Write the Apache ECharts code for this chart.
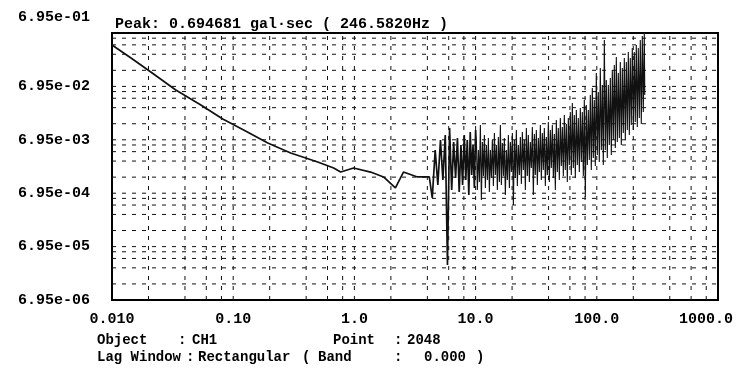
<!DOCTYPE html>
<html>
<head>
<meta charset="utf-8">
<script src="https://cdn.jsdelivr.net/npm/echarts@6/dist/echarts.min.js"></script>
<style>
html, body { margin: 0; padding: 0; background: #fff; }
#chart { width: 738px; height: 376px; }
</style>
</head>
<body>
<div id="chart"></div>
<script>
// tick labels
const xTickLabels = ['0.010', '0.10', '1.0', '10.0', '100.0', '1000.0'];
const yTickLabels = ['6.95e-06', '6.95e-05', '6.95e-04', '6.95e-03', '6.95e-02', '6.95e-01'];

// axis range
const xRange = [0.01, 1000];
const yRange = [6.95e-6, 0.695];

// dashed grid: each decade at 1, 2, 4, 6, 8
const gridSteps = [1, 2, 4, 6, 8];
const xDecades = [0.01, 0.1, 1, 10, 100];
const yDecades = [6.95e-6, 6.95e-5, 6.95e-4, 6.95e-3, 6.95e-2];

const peakText = 'Peak: 0.694681 gal\u00b7sec ( 246.5820Hz )';

// [Hz, gal*sec] - smooth low frequency part
const smoothPart = [
	[0.01, 0.414], [0.01435, 0.236], [0.0209, 0.129], [0.0336, 0.0596],
	[0.0541, 0.0312], [0.082, 0.0170], [0.122, 0.0106], [0.193, 0.00605],
	[0.298, 0.00394], [0.498, 0.00267], [0.674, 0.00206], [0.77, 0.00173],
	[0.985, 0.00206], [1.36, 0.00173], [1.74, 0.00140], [2.18, 0.00087],
	[2.54, 0.00173], [3.31, 0.00140], [3.91, 0.00140]
];

// [Hz, gal*sec] - single spikes, 4 - 10 Hz
const spikePart = [
	[4.15, 0.00140], [4.39, 0.000565], [4.64, 0.00448], [4.88, 0.00099],
	[5.13, 0.00689], [5.37, 0.00123], [5.62, 0.00855], [5.86, 0.0000314],
	[6.10, 0.0116], [6.35, 0.000798], [6.59, 0.00632], [6.84, 0.00134],
	[7.08, 0.00751], [7.32, 0.000732], [7.57, 0.00555], [7.81, 0.00099],
	[8.06, 0.00855], [8.30, 0.00123], [8.54, 0.00689], [8.79, 0.000643],
	[9.03, 0.00973], [9.28, 0.00152], [9.52, 0.00555], [9.77, 0.000870],
	[10.0, 0.0106]
];

// [Hz, gal*sec] - dense band, 10 - 250 Hz
const densePart = [
	[10.15, 0.00689], [10.34, 0.000798], [10.54, 0.00448], [10.74, 0.00113],
	[10.95, 0.0132], [11.16, 0.000518], [11.38, 0.00632], [11.60, 0.00146],
	[11.82, 0.00855], [12.04, 0.000870], [12.27, 0.00555], [12.51, 0.00123],
	[12.75, 0.00751], [12.99, 0.000732], [13.24, 0.00448], [13.49, 0.00134],
	[13.75, 0.00689], [14.02, 0.000948], [14.29, 0.00932], [14.56, 0.00152],
	[14.84, 0.00555], [15.12, 0.000798], [15.41, 0.00784], [15.71, 0.00113],
	[16.01, 0.0132], [16.32, 0.00099], [16.63, 0.00605], [16.95, 0.00146],
	[17.27, 0.00751], [17.60, 0.000643], [17.94, 0.00448], [18.29, 0.00123],
	[18.64, 0.00855], [19.00, 0.000870], [19.36, 0.00632], [19.73, 0.00173],
	[20.11, 0.00932], [20.50, 0.000418], [20.89, 0.00689], [21.29, 0.00134],
	[21.69, 0.0106], [22.11, 0.000948], [22.53, 0.00555], [22.97, 0.00152],
	[23.41, 0.00784], [23.86, 0.00103], [24.31, 0.00973], [24.78, 0.00189],
	[25.25, 0.00689], [25.74, 0.000798], [26.23, 0.0116], [26.73, 0.00146],
	[27.24, 0.00855], [27.77, 0.00113], [28.30, 0.00632], [28.84, 0.00206],
	[29.39, 0.0121], [29.96, 0.000643], [30.53, 0.00893], [31.11, 0.00152],
	[31.71, 0.0106], [32.32, 0.00099], [32.94, 0.00751], [33.57, 0.00173],
	[34.22, 0.0132], [34.87, 0.00123], [35.54, 0.00932], [36.22, 0.00189],
	[36.92, 0.0116], [37.63, 0.000948], [38.35, 0.00784], [39.08, 0.00152],
	[39.83, 0.0150], [40.59, 0.00113], [41.37, 0.0106], [42.16, 0.00206],
	[42.97, 0.0132], [43.80, 0.00134], [44.64, 0.00893], [45.49, 0.000798],
	[46.36, 0.0163], [47.25, 0.00173], [48.16, 0.0116], [49.08, 0.00123],
	[50.02, 0.0178], [50.98, 0.00225], [51.96, 0.0121], [52.96, 0.00146],
	[53.97, 0.0202], [55.00, 0.00189], [56.06, 0.0137], [57.13, 0.00113],
	[58.23, 0.0178], [59.35, 0.00234], [60.48, 0.0230], [61.64, 0.00152],
	[62.82, 0.0340], [64.03, 0.00206], [65.25, 0.0202], [66.50, 0.00134],
	[67.78, 0.0251], [69.08, 0.00234], [70.40, 0.0178], [71.75, 0.00173],
	[73.13, 0.0274], [74.53, 0.00267], [75.96, 0.0230], [77.42, 0.00146],
	[78.90, 0.0387], [80.41, 0.000590], [81.95, 0.0312], [83.53, 0.00234],
	[85.13, 0.0251], [86.76, 0.00291], [88.42, 0.0480], [90.11, 0.00189],
	[91.84, 0.0649], [93.60, 0.00317], [95.40, 0.0387], [97.23, 0.00225],
	[99.09, 0.124], [101.0, 0.00361], [102.9, 0.0546], [104.9, 0.00267],
	[106.9, 0.154], [109.0, 0.00448], [111.1, 0.0738], [113.2, 0.00234],
	[115.4, 0.514], [117.6, 0.00448], [119.8, 0.0917], [122.1, 0.00317],
	[124.5, 0.0738], [126.9, 0.00555], [129.3, 0.0999], [131.8, 0.00361],
	[134.3, 0.141], [136.9, 0.00689], [139.5, 0.175], [142.2, 0.00488],
	[144.9, 0.247], [147.7, 0.00632], [150.5, 0.124], [153.4, 0.00751],
	[156.3, 0.199], [159.3, 0.00555], [162.4, 0.154], [165.5, 0.00932],
	[168.7, 0.236], [171.9, 0.00689], [175.2, 0.199], [178.6, 0.0106],
	[182.0, 0.306], [185.5, 0.00855], [189.0, 0.236], [192.6, 0.0132],
	[196.3, 0.364], [200.1, 0.0106], [203.9, 0.306], [207.8, 0.0150],
	[211.8, 0.414], [215.9, 0.0121], [220.0, 0.364], [224.2, 0.0178],
	[228.5, 0.514], [232.9, 0.0137], [237.4, 0.611], [241.9, 0.0230],
	[246.58, 0.694681], [248.8, 0.0480]
];

const FONT = '"Liberation Mono", "DejaVu Sans Mono", monospace';
const gridStyle = { color: '#111', width: 1, type: [4, 6] };

// one dashed line series per grid line
function gridSeries() {
	const out = [];
	xDecades.forEach(d => {
		gridSteps.forEach(k => {
			const v = d * k;
			if (v <= xRange[0]) return;
			out.push({
				type: 'line', silent: true, symbol: 'none', z: 1,
				lineStyle: gridStyle,
				data: [[v, yRange[0]], [v, yRange[1]]]
			});
		});
	});
	yDecades.forEach(d => {
		gridSteps.forEach(k => {
			const v = d * k;
			if (v <= yRange[0]) return;
			out.push({
				type: 'line', silent: true, symbol: 'none', z: 1,
				lineStyle: gridStyle,
				data: [[xRange[0], v], [xRange[1], v]]
			});
		});
	});
	return out;
}

function footText(text, x, y) {
	return {
		type: 'text', left: x, top: y,
		style: { text: text, fill: '#000', font: 'bold 14px ' + FONT }
	};
}

const labelFont = { fontFamily: FONT, fontSize: 15, fontWeight: 'bold', color: '#000' };

const myChart = echarts.init(document.getElementById('chart'));
const option = {
	animation: false,
	title: {
		text: peakText,
		left: 110,
		top: 12,
		textStyle: labelFont
	},
	grid: [
		{ left: 112, right: 20, top: 33, bottom: 76, show: true, borderColor: '#000', borderWidth: 2 },
		{ left: 112, right: 20, top: 33, bottom: 76 }
	],
	xAxis: [{
		type: 'log',
		gridIndex: 0,
		min: xRange[0],
		max: xRange[1],
		axisLine: { show: false },
		axisTick: { show: false },
		splitLine: { show: false },
		axisLabel: Object.assign({
			margin: 12,
			formatter: (v, i) => i === 5 ? '{e|' + xTickLabels[i] + '}' : xTickLabels[i],
			rich: { e: Object.assign({ padding: [0, 24, 0, 0] }, labelFont) }
		}, labelFont)
	}, {
		type: 'value',
		gridIndex: 1,
		show: false
	}],
	yAxis: [{
		type: 'log',
		gridIndex: 0,
		min: yRange[0],
		max: yRange[1],
		axisLine: { show: false },
		axisTick: { show: false },
		splitLine: { show: false },
		axisLabel: { show: false }
	}, {
		type: 'category',
		gridIndex: 1,
		data: yTickLabels,
		boundaryGap: false,
		axisLine: { show: false },
		axisTick: { show: false },
		splitLine: { show: false },
		axisLabel: Object.assign({
			margin: 22,
			// top label sits above the frame
			formatter: (v, i) => i === 5 ? '{t|' + v + '}' : v,
			rich: { t: Object.assign({ padding: [0, 0, 32, 0] }, labelFont) }
		}, labelFont)
	}],
	graphic: [
		footText('Object', 97, 333),
		footText(':', 178, 333),
		footText('CH1', 192, 333),
		footText('Point', 333, 333),
		footText(':', 394, 333),
		footText('2048', 407, 333),
		footText('Lag Window', 97, 350),
		footText(':', 186, 350),
		footText('Rectangular', 198, 350),
		footText('(', 302, 350),
		footText('Band', 318, 350),
		footText(':', 394, 350),
		footText('0.000', 424, 350),
		footText(')', 476, 350)
	],
	series: gridSeries().concat([{
		type: 'line',
		data: smoothPart.concat(spikePart),
		symbol: 'none',
		z: 3,
		lineStyle: { color: '#111', width: 1.7 }
	}, {
		type: 'line',
		data: spikePart.slice(-1).concat(densePart),
		symbol: 'none',
		z: 3,
		lineStyle: { color: '#111', width: 1.1 }
	}])
};
myChart.setOption(option);
</script>
</body>
</html>
